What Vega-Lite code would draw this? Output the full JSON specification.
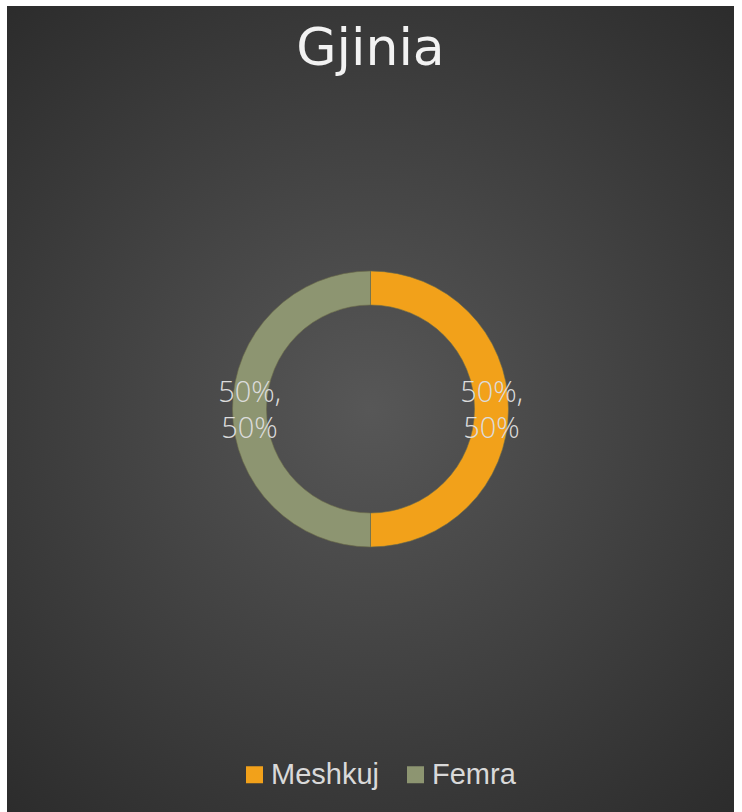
{
  "$schema": "https://vega.github.io/schema/vega-lite/v6.json",
  "autosize": {"type": "fit", "contains": "padding"},
  "width": 742,
  "height": 812,
  "padding": {"left": 7, "top": 6, "right": 8, "bottom": 0},
  "background": "#ffffff",
  "config": {
    "view": {"stroke": null},
    "font": "Liberation Sans"
  },
  "title": {
    "text": "Gjinia",
    "fontSize": 52,
    "font": "DejaVu Sans",
    "fontWeight": "normal",
    "color": "#f2f2f2",
    "anchor": "middle",
    "offset": -70
  },
  "layer": [
    {
      "data": {"values": [{"bg": 1}]},
      "mark": {
        "type": "rect",
        "fill": {
          "gradient": "radial",
          "x1": 0.5, "y1": 0.5, "r1": 0,
          "x2": 0.5, "y2": 0.5, "r2": 0.72,
          "stops": [
            {"offset": 0, "color": "#575757"},
            {"offset": 1, "color": "#292929"}
          ]
        }
      },
      "encoding": {}
    },
    {
      "data": {
        "values": [
          {"gender": "Meshkuj", "value": 50, "label": "50%,\n50%"},
          {"gender": "Femra", "value": 50, "label": "50%,\n50%"}
        ]
      },
      "encoding": {
        "theta": {"field": "value", "type": "quantitative", "stack": true},
        "order": {"field": "gender", "sort": "descending"},
        "color": {
          "field": "gender",
          "type": "nominal",
          "scale": {"domain": ["Meshkuj", "Femra"], "range": ["#f2a11a", "#8d9571"]},
          "legend": {
            "title": null,
            "orient": "none",
            "direction": "horizontal",
            "legendX": 233,
            "legendY": 754,
            "symbolType": "square",
            "symbolSize": 289,
            "symbolStrokeWidth": 0,
            "labelFontSize": 29,
            "labelColor": "#d9d9d9",
            "labelFont": "Liberation Sans",
            "labelOffset": 2,
            "columnPadding": 22
          }
        }
      },
      "layer": [
        {
          "mark": {"type": "arc", "innerRadius": 104, "outerRadius": 138, "stroke": "#6b6b4a", "strokeWidth": 0.6}
        },
        {
          "mark": {
            "type": "text",
            "radius": 121,
            "fontSize": 29,
            "font": "Open Sans",
            "fontWeight": 300,
            "fill": "#dcdcdc",
            "lineBreak": "\n",
            "lineHeight": 36,
            "align": "center",
            "baseline": "middle",
            "dy": -16
          },
          "encoding": {
            "text": {"field": "label"},
            "color": {"value": "#dcdcdc"}
          }
        }
      ]
    }
  ]
}
